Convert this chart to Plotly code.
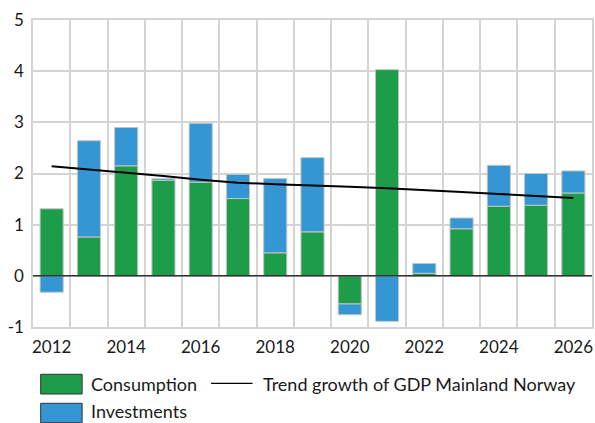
import plotly.graph_objects as go

# Contributions to growth in demand, percentage points
years = list(range(2012, 2027))
consumption = [1.31, 0.76, 2.15, 1.87, 1.83, 1.51, 0.45, 0.86, -0.55, 4.03, 0.05, 0.92, 1.36, 1.38, 1.62]
investments = [-0.32, 1.88, 0.75, 0.03, 1.15, 0.47, 1.45, 1.45, -0.21, -0.89, 0.19, 0.21, 0.80, 0.62, 0.43]
trend_growth = [2.14, 2.08, 2.01, 1.95, 1.88, 1.82, 1.79, 1.77, 1.74, 1.71, 1.68, 1.64, 1.60, 1.56, 1.52]

x_ticks = [2012, 2014, 2016, 2018, 2020, 2022, 2024, 2026]
y_ticks = [-1, 0, 1, 2, 3, 4, 5]
y_tick_text = ["-1", "0", "1", "2", "3", "4", "5"]

GREEN = "#1d9c4a"
BLUE = "#3496d3"
GRID = "#d4d4d4"
FONT = "Lato"

W, H = 595, 423
L, R, T, B = 33, 1, 20, 96
PW, PH = W - L - R, H - T - B


def px_x(v):
    return (v - L) / PW


def px_y(v):
    return (H - B - v) / PH


fig = go.Figure()
fig.add_trace(go.Bar(
    x=years, y=consumption, name="Consumption",
    marker=dict(color=GREEN, line=dict(color="#c4c4c4", width=1)),
    width=0.62,
))
fig.add_trace(go.Bar(
    x=years, y=investments, name="Investments",
    marker=dict(color=BLUE, line=dict(color="#c4c4c4", width=1)),
    width=0.62,
))
fig.add_trace(go.Scatter(
    x=years, y=trend_growth, name="Trend growth of GDP Mainland Norway",
    mode="lines", line=dict(color="black", width=2),
))

# zero line drawn above the bars
fig.add_shape(type="line", xref="paper", yref="y", x0=0, x1=1, y0=0, y1=0,
              line=dict(color="#333333", width=1.5), layer="above")

# legend: boxes, line sample and labels
legend_font = dict(family=FONT, size=18, color="#1a1a1a")
for color, top, bottom, label, ty in [
    (GREEN, 374.3, 394.0, "Consumption", 384.0),
    (BLUE, 403.3, 422.7, "Investments", 411.5),
]:
    fig.add_shape(type="rect", xref="paper", yref="paper",
                  x0=px_x(40.7), x1=px_x(82.3), y0=px_y(bottom), y1=px_y(top),
                  fillcolor=color, line=dict(color="#333333", width=1))
    fig.add_annotation(xref="paper", yref="paper", x=px_x(89), y=px_y(ty),
                       text=label, showarrow=False, xanchor="left", yanchor="middle",
                       font=legend_font)
fig.add_shape(type="line", xref="paper", yref="paper",
              x0=px_x(211.7), x1=px_x(253.3), y0=px_y(383.3), y1=px_y(383.3),
              line=dict(color="black", width=1.3))
fig.add_annotation(xref="paper", yref="paper", x=px_x(262), y=px_y(384.0),
                   text="Trend growth of GDP Mainland Norway", showarrow=False,
                   xanchor="left", yanchor="middle", font=legend_font)

fig.update_layout(
    width=W, height=H,
    margin=dict(l=L, r=R, t=T, b=B),
    barmode="relative",
    showlegend=False,
    plot_bgcolor="white",
    paper_bgcolor="white",
    font=dict(family=FONT, size=17, color="#1a1a1a"),
    xaxis=dict(
        range=[2011.5, 2026.5],
        tickmode="array", tickvals=x_ticks,
        showgrid=False,
        ticks="outside", ticklen=4, tickcolor="rgba(0,0,0,0)",
        minor=dict(tickmode="linear", tick0=2011.5, dtick=1, showgrid=True,
                   gridcolor=GRID, gridwidth=1.5, ticks=""),
        showline=True, linecolor=GRID, linewidth=1.5, mirror=True,
        zeroline=False,
    ),
    yaxis=dict(
        range=[-1, 5],
        tickmode="array", tickvals=y_ticks, ticktext=y_tick_text,
        showgrid=True, gridcolor=GRID, gridwidth=1.5,
        ticks="outside", ticklen=4, tickcolor="rgba(0,0,0,0)",
        showline=True, linecolor=GRID, linewidth=1.5, mirror=True,
        zeroline=False,
    ),
)

fig.write_html("out.html")
